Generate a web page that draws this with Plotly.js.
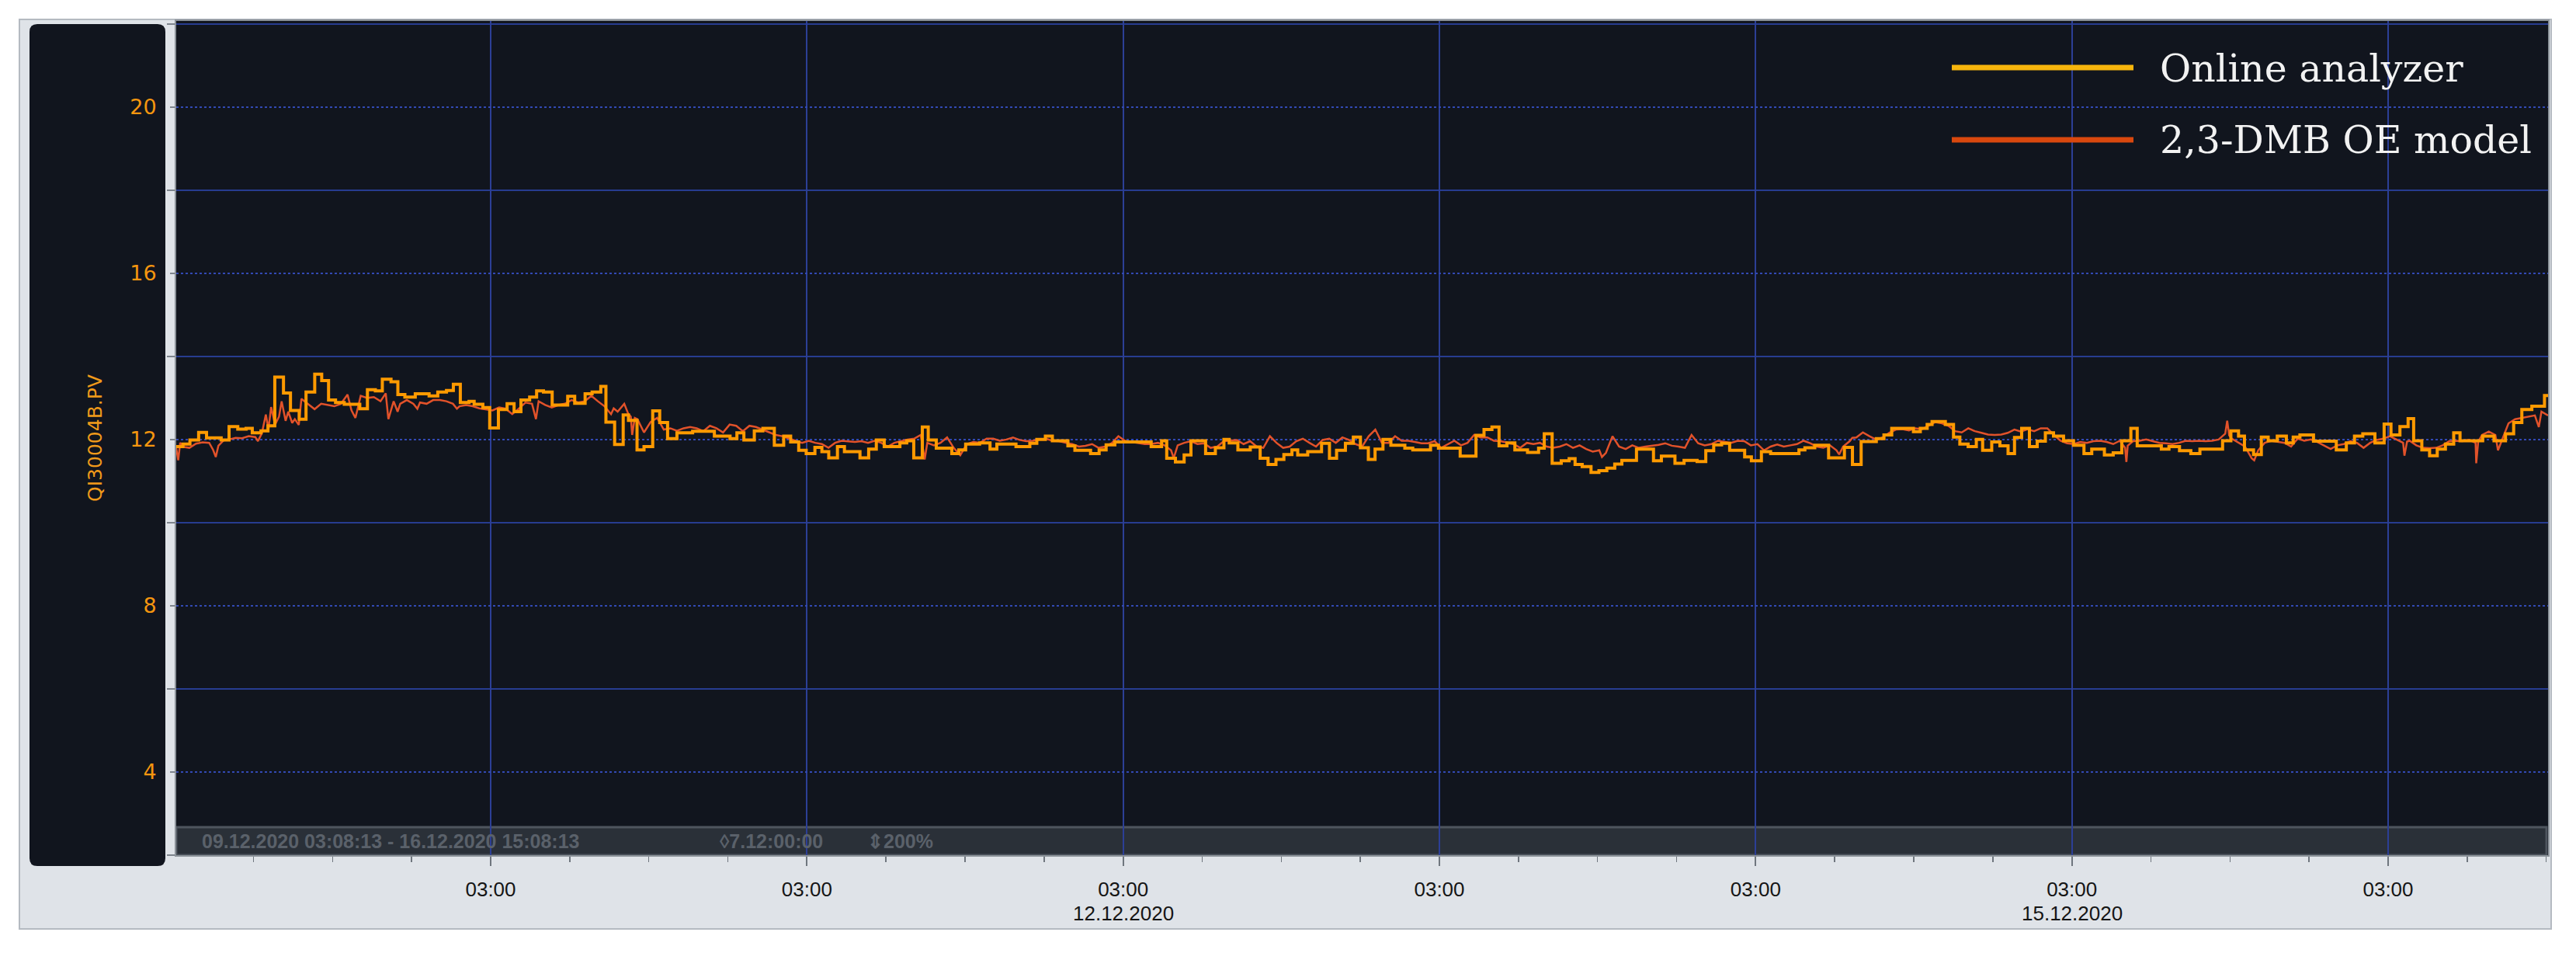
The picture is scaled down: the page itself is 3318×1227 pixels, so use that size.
<!DOCTYPE html>
<html>
<head>
<meta charset="utf-8">
<script src="https://cdn.plot.ly/plotly-3.0.1.min.js"></script>
<style>
  html, body { margin: 0; padding: 0; background: #fff; }
  #chart { width: 3318px; height: 1227px; }
</style>
</head>
<body>
<div id="chart"></div>
<script>
/*  QI30004B.PV trend – online analyzer vs. 2,3-DMB OE model
------------------------------------------------ */

/* Time base: hours counted from the left edge of the window */
const T0_UTC = Date.UTC(2020, 11, 9, 3, 8, 13);      // 09.12.2020 03:08:13
const SPAN_H = 180;                                  // 7.12:00:00

/* Online analyzer (step signal) */
const analyzerHours = [
  0, 0.51, 1.04, 1.70, 2.30, 3.41, 4.01, 4.67, 5.30, 5.77, 6.43, 6.96, 7.48, 8.14, 8.67, 9.33,
  9.85, 10.51, 11.04, 11.56, 12.09, 12.75, 13.93, 14.51, 15.11, 15.64, 16.30, 16.82, 17.35, 18.14,
  19.19, 19.85, 20.51, 21.03, 21.56, 22.22, 22.61, 23.27, 23.79, 24.45, 25.11, 25.64, 26.16, 26.82,
  27.35, 27.87, 28.53, 29.71, 30.24, 31.03, 31.56, 32.22, 32.61, 33.27, 33.92, 34.32, 34.97, 35.50,
  36.16, 36.69, 37.29, 38.00, 39.19,
  40.84, 42.03, 42.55, 43.08, 43.87, 44.52, 45.39, 46.10, 46.63, 47.24, 47.81, 48.47, 49.00, 49.52,
  50.18, 50.71, 51.89, 52.55, 53.13, 53.73, 54.92, 55.44, 55.97, 56.62, 57.07, 57.68, 58.86, 59.39,
  59.91, 60.97, 61.76, 62.28, 63.73, 64.78, 65.31, 65.96, 66.49, 67.67, 68.20, 69.39, 70.04, 70.57,
  71.23, 73.99, 74.78, 75.17, 75.83, 76.49, 77.01, 78.12, 78.86, 79.51, 79.91, 80.57,
  81.51, 82.26, 82.86, 83.46, 84.06, 84.67, 85.11, 85.87, 86.92, 87.52, 88.06, 88.73, 89.33, 89.87,
  90.47, 90.98, 91.58, 92.18, 93.24, 93.84, 95.19, 95.79, 97.44, 98.64, 99.25, 99.85, 100.39, 100.99,
  101.59, 102.55, 103.39, 103.82, 104.42, 105.11, 105.71, 106.16, 106.70, 107.37, 107.97, 108.57,
  109.17, 109.71, 110.82, 112.11, 112.71, 113.74, 114.43, 115.42, 116.08, 116.68, 117.28, 117.89,
  119.03, 119.54, 120.30, 121.00, 123.15, 123.60, 124.35, 125.40, 126.60, 127.21, 127.87,
  129.02, 129.60, 130.19, 131.84, 132.36, 132.88, 133.25, 134.26, 134.88, 135.36, 135.99, 136.61,
  137.09, 137.78, 138.40, 139.02, 139.51, 140.05, 140.64, 141.23, 141.85, 142.47, 143.23, 143.99,
  144.78, 145.37, 146.33, 147.00, 147.65, 148.34, 148.82, 150.65, 151.23, 152.03, 152.89, 153.58,
  155.30, 155.93, 156.51, 156.96, 157.65, 158.24, 158.76, 159.45, 160.14, 160.66, 161.17, 162.20,
  163.93, 164.69, 165.31, 165.94, 166.86, 167.56, 168.08, 168.76, 169.38, 169.80, 170.42, 171.01,
  171.59, 172.21, 172.84, 173.32, 175.04, 175.90, 176.77, 177.39, 178.01, 178.77, 179.73, 180
];
const analyzerValues = [
  11.83, 11.89, 11.99, 12.17, 12.04, 11.99, 12.31, 12.25, 12.27, 12.16, 12.21, 12.33, 13.50, 13.12, 12.70, 12.49,
  13.14, 13.57, 13.42, 12.95, 12.89, 12.85, 12.74, 13.20, 13.17, 13.45, 13.39, 13.08, 13.02, 13.10,
  13.05, 13.14, 13.18, 13.33, 12.89, 12.92, 12.85, 12.77, 12.28, 12.72, 12.86, 12.67, 12.95, 13.02,
  13.17, 13.14, 12.83, 13.04, 12.87, 13.10, 13.14, 13.28, 12.42, 11.88, 12.59, 12.46, 11.75, 11.83,
  12.69, 12.41, 12.02, 12.16, 12.20,
  12.08, 12.02, 12.16, 11.99, 12.21, 12.27, 11.86, 12.08, 11.94, 11.74, 11.66, 11.81, 11.71, 11.56,
  11.83, 11.71, 11.56, 11.77, 11.99, 11.83, 11.92, 11.97, 11.56, 12.30, 11.99, 11.79, 11.66, 11.75,
  11.89, 11.92, 11.77, 11.89, 11.83, 11.91, 12.00, 12.08, 11.97, 11.85, 11.74, 11.66, 11.75, 11.87,
  11.94, 11.83, 11.97, 11.55, 11.46, 11.63, 11.97, 11.66, 11.80, 12.00, 11.92, 11.75,
  11.82, 11.55, 11.40, 11.52, 11.64, 11.75, 11.63, 11.71, 11.91, 11.55, 11.74, 11.91, 12.06, 11.80,
  11.52, 11.77, 12.00, 11.86, 11.79, 11.75, 11.86, 11.79, 11.60, 12.10, 12.24, 12.30, 11.85, 11.92,
  11.75, 11.69, 11.79, 12.14, 11.43, 11.49, 11.54, 11.40, 11.35, 11.21, 11.25, 11.31,
  11.41, 11.50, 11.77, 11.49, 11.60, 11.43, 11.50, 11.47, 11.73, 11.87, 11.91, 11.74,
  11.58, 11.49, 11.71, 11.66, 11.75, 11.80, 11.86, 11.56, 11.81, 11.40, 11.95,
  12.02, 12.11, 12.27, 12.19, 12.27, 12.36, 12.43, 12.36, 12.06, 11.89, 11.83, 12.00,
  11.74, 11.94, 11.85, 11.66, 12.05, 12.27, 11.83, 11.96, 12.16, 12.08, 11.97, 11.86,
  11.66, 11.77, 11.63, 11.68, 11.97, 12.27, 11.85, 11.77, 11.83, 11.73, 11.66, 11.77,
  11.97, 12.21, 12.08, 11.75, 11.64, 12.06, 11.97, 12.08, 11.92, 12.06, 12.11, 11.96,
  11.75, 11.92, 12.08, 12.14, 11.92, 12.37, 12.11, 12.31, 12.50, 11.97, 11.75, 11.61,
  11.77, 11.89, 12.16, 11.97, 12.08, 11.97, 12.14, 12.41, 12.72, 12.80, 13.06, 13.06
];

/* 2,3-DMB OE model (continuous signal) */
const modelHours = [
  0, 0.15, 0.3, 0.6, 1, 1.5, 2, 2.5, 2.8, 3.0, 3.2, 3.6, 4, 4.5, 5, 5.5, 6, 6.2, 6.5, 6.8, 7.0, 7.2,
  7.5, 7.8, 8, 8.3, 8.5, 8.8, 9, 9.3, 9.5, 10, 10.5, 11, 11.5, 12, 12.5, 13, 13.3, 13.6, 14, 14.5, 15,
  15.5, 15.9, 16.1, 16.5, 16.8, 17, 17.5, 18, 18.3, 18.5, 19, 19.5, 20, 20.5, 21, 21.3, 21.5, 22, 22.5,
  23, 23.5, 24, 24.5, 25, 25.5, 26, 26.5, 27, 27.3, 27.5, 28, 28.5, 29, 29.5, 30, 30.5, 31, 31.5, 32,
  32.5, 33, 33.2, 33.5, 34, 34.3, 34.5, 34.6, 34.8, 35, 35.5, 36, 36.5, 37, 37.5, 38, 38.5, 39, 39.5,
  40, 40.5, 41, 41.5, 42, 42.5, 43, 43.5, 44, 44.5, 45, 45.5, 46, 46.5, 47, 47.5, 48, 48.5, 49, 49.5,
  50, 50.5, 51, 51.5, 52, 52.5, 53, 53.5, 54, 54.5, 55, 55.5, 56, 56.5, 56.8, 57, 57.5, 58, 58.5, 59,
  59.5, 60, 60.5, 61, 61.5, 62, 62.5, 63, 63.5, 64, 64.5, 65, 65.5, 66, 66.5, 67, 67.5, 68, 68.5, 69,
  69.5, 70, 70.5, 71, 71.5, 72, 72.5, 73, 73.5, 74, 74.5, 75, 75.5, 75.7, 76, 76.5, 77, 77.5, 78, 78.5,
  79, 79.5, 80, 80.5,
  81, 81.5, 82, 82.5, 83, 83.5, 84, 84.5, 85, 85.5, 86, 86.5, 87, 87.5, 88, 88.5, 89, 89.5, 90, 90.5,
  91, 91.5, 92, 92.5, 93, 93.5, 94, 94.5, 95, 95.5, 96, 96.5, 97, 97.5, 98, 98.5, 99, 99.5, 100, 100.5,
  101, 101.5, 102, 102.5, 103, 103.5, 104, 104.5, 105, 105.5, 106, 106.5, 107, 107.5, 108, 108.2, 108.5,
  109, 109.5, 110, 110.5, 111, 111.5, 112, 112.5, 113, 113.5, 114, 114.5, 115, 115.5, 116, 116.5, 117,
  117.5, 118, 118.5, 119, 119.5, 120, 120.5, 121, 121.5, 122, 122.5, 123, 123.5, 124, 124.5, 125, 125.5,
  126, 126.2, 126.5, 127, 127.2, 127.5, 128,
  128.5, 129, 129.5, 130, 130.5, 131, 131.5, 132, 132.5, 133, 133.5, 134, 134.5, 135, 135.5, 136, 136.5,
  137, 137.5, 138, 138.5, 139, 139.5, 140, 140.5, 141, 141.5, 142, 142.5, 143, 143.5, 144, 144.5, 145,
  145.5, 146, 146.5, 147, 147.5, 147.9, 148.0, 148.1, 148.5, 149, 149.5, 150, 150.5, 151, 151.5, 152,
  152.5, 153, 153.5, 154, 154.5, 155, 155.5, 155.65, 155.8, 156, 156.5, 157, 157.5, 157.7, 158, 158.5,
  159, 159.5, 160, 160.5, 161, 161.5, 162, 162.5, 163, 163.5, 164, 164.5, 165, 165.5, 166, 166.5, 167,
  167.5, 168, 168.5, 169, 169.1, 169.3, 169.5, 170, 170.5, 171, 171.5, 172, 172.5, 173, 173.5, 174,
  174.5, 174.55, 174.7, 175, 175.5, 176, 176.2, 176.5, 177, 177.5, 178, 178.5, 179, 179.3, 179.5, 180
];
const modelValues = [
  11.80, 11.50, 11.92, 11.82, 11.80, 11.90, 11.93, 11.92, 11.75, 11.58, 11.85, 11.98, 12.00, 12.04, 12.03, 12.08, 12.06, 11.96, 12.15, 12.60, 12.25, 12.78,
  12.36, 12.55, 12.92, 12.45, 12.67, 12.40, 12.49, 12.35, 12.98, 12.86, 12.73, 12.86, 12.83, 12.80, 12.86, 13.08, 12.70, 12.52, 13.05, 13.00, 13.02,
  12.92, 13.11, 12.49, 12.92, 12.67, 12.86, 12.95, 12.86, 12.74, 12.89, 12.86, 12.95, 12.95, 12.92, 12.86, 12.74, 12.80, 12.83, 12.80,
  12.75, 12.73, 12.70, 12.77, 12.74, 12.61, 12.74, 12.89, 12.86, 12.49, 12.92, 12.83, 12.77, 12.83, 12.86, 12.95, 12.89, 12.92, 13.05, 12.92,
  12.80, 12.61, 12.75, 12.67, 12.86, 12.62, 12.55, 12.11, 12.52, 12.49, 12.17, 12.42, 12.52, 12.24, 12.27, 12.21, 12.27, 12.30, 12.27,
  12.20, 12.33, 12.27, 12.17, 12.36, 12.33, 12.20, 12.33, 12.30, 12.24, 12.17, 12.11, 12.08, 12.02, 11.97, 11.92, 11.97, 11.92, 11.89, 11.80,
  11.92, 11.97, 11.96, 11.94, 11.96, 11.92, 11.97, 11.92, 11.83, 11.92, 11.96, 12.00, 12.02, 12.11, 11.52, 11.92, 11.86, 11.92, 12.05, 11.80,
  11.62, 11.89, 11.94, 11.92, 12.02, 12.02, 11.97, 12.00, 12.05, 11.99, 11.96, 11.97, 12.00, 12.02, 11.97, 11.96, 11.92, 11.89, 11.83, 11.85,
  11.89, 11.80, 11.83, 11.91, 12.08, 11.97, 11.94, 11.92, 11.89, 11.89, 11.92, 11.86, 11.74, 11.55, 11.86, 11.92, 11.96, 11.89, 11.91, 11.80,
  11.83, 11.96, 11.97, 11.99,
  11.89, 11.96, 11.83, 11.80, 12.08, 11.92, 11.80, 11.83, 11.96, 12.02, 11.92, 11.83, 11.99, 12.02, 11.92, 12.05, 11.99, 11.89, 11.83, 12.08,
  12.24, 11.92, 11.92, 12.08, 11.97, 11.97, 11.94, 11.91, 11.91, 11.96, 11.80, 11.89, 11.97, 11.86, 11.92, 12.11, 12.05, 12.05, 11.97, 11.96,
  11.92, 11.89, 11.80, 11.92, 11.89, 11.92, 11.83, 11.80, 11.83, 11.89, 11.80, 11.86, 11.77, 11.71, 11.74, 11.58, 11.68,
  12.08, 11.83, 11.77, 11.86, 11.80, 11.83, 11.85, 11.87, 11.91, 11.85, 11.83, 11.80, 12.11, 11.91, 11.86, 11.89, 11.97,
  11.94, 11.92, 11.97, 11.96, 11.86, 11.89, 11.74, 11.83, 11.88, 11.83, 11.86, 11.89, 11.97, 11.91, 11.83, 11.80, 11.86,
  11.74, 11.64, 11.83, 11.96, 12.04, 12.05, 12.17,
  12.08, 12.00, 12.05, 12.16, 12.24, 12.25, 12.22, 12.27, 12.25, 12.33, 12.42, 12.39, 12.33, 12.20, 12.17, 12.27, 12.20,
  12.16, 12.12, 12.11, 12.12, 12.16, 12.24, 12.19, 12.25, 12.20, 12.27, 12.27, 12.11, 11.97, 11.91, 11.89, 11.94, 11.92,
  11.96, 11.97, 11.94, 11.89, 11.97, 11.80, 11.46, 11.85, 11.96, 11.97, 12.00, 11.96, 11.92, 11.91, 11.89, 11.92,
  11.97, 11.96, 11.97, 11.96, 11.97, 12.00, 12.14, 12.45, 12.10, 12.02, 11.92, 11.83, 11.55, 11.50, 11.74, 11.92,
  11.97, 11.94, 11.92, 11.83, 12.02, 11.97, 12.00, 11.94, 11.86, 11.77, 11.86, 11.89, 11.96, 11.92, 11.80, 11.92, 11.99,
  12.02, 12.08, 12.00, 11.92, 11.61, 11.95, 11.97, 11.86, 11.80, 11.79, 11.80, 11.86, 11.96, 11.97, 11.96, 11.99,
  11.92, 11.43, 11.95, 12.11, 12.19, 12.11, 11.74, 11.99, 12.39, 12.49, 12.52, 12.56, 12.58, 12.30, 12.67, 12.58
];

/* Labels */
const seriesNames   = ['Online analyzer', '2,3-DMB OE model'];
const traceColors   = ['#ff9a00', '#e2522a'];
const legendColors  = ['#f7b50c', '#d9480e'];
const dateLabels    = ['12.12.2020', '15.12.2020'];
const dateLabelAt   = ['2020-12-12 03:00', '2020-12-15 03:00'];
const yTitle        = 'QI30004B.PV';
const statusTexts   = ['09.12.2020 03:08:13 - 16.12.2020 15:08:13', '\u25CA7.12:00:00', '\u21D5200%'];

/* Geometry (px of the 3318x1227 page) */
const W = 3318, H = 1227;
const PLOT = { l: 227, r: 3282, t: 27, b: 1101 };
const px = x => (x - PLOT.l) / (PLOT.r - PLOT.l);
const py = y => (PLOT.b - y) / (PLOT.b - PLOT.t);

const toDate = h => new Date(T0_UTC + h * 3600e3).toISOString().slice(0, 19).replace('T', ' ');

function roundRect (x0, y0, x1, y1, r) {
  const P = (x, y) => px(x) + ',' + py(y);
  return 'M' + P(x0 + r, y0) + ' L' + P(x1 - r, y0) + ' Q' + P(x1, y0) + ' ' + P(x1, y0 + r) +
         ' L' + P(x1, y1 - r) + ' Q' + P(x1, y1) + ' ' + P(x1 - r, y1) +
         ' L' + P(x0 + r, y1) + ' Q' + P(x0, y1) + ' ' + P(x0, y1 - r) +
         ' L' + P(x0, y0 + r) + ' Q' + P(x0, y0) + ' ' + P(x0 + r, y0) + ' Z';
}

/* ----------------------------------------------------------- */
const model = {
  x: modelHours.map(toDate),
  y: modelValues,
  type: 'scatter', mode: 'lines',
  line: { color: traceColors[1], width: 2.5 },
  name: seriesNames[1], showlegend: false
};
const analyzer = {
  x: analyzerHours.map(toDate),
  y: analyzerValues,
  type: 'scatter', mode: 'lines',
  line: { color: traceColors[0], width: 4, shape: 'hv' },
  name: seriesNames[0], showlegend: false
};

const tickFont = { family: 'Liberation Sans, Arial, sans-serif', size: 26, color: '#151515' };
const statusFont = { family: 'Liberation Sans, Arial, sans-serif', size: 25, color: '#5a616a', weight: 'bold' };

const shapes = [
  /* grey window frame */
  { type: 'rect', xref: 'paper', yref: 'paper', layer: 'below',
    x0: px(25), x1: px(3286), y0: py(1196), y1: py(25),
    fillcolor: '#dfe3e8', line: { color: '#b4bac1', width: 2 } },
  /* dark rounded panel behind the y scale */
  { type: 'path', xref: 'paper', yref: 'paper', layer: 'below',
    path: roundRect(38, 31, 213, 1115, 10),
    fillcolor: '#11151e', line: { width: 0 } },
  /* plot background */
  { type: 'rect', xref: 'paper', yref: 'paper', layer: 'below',
    x0: 0, x1: 1, y0: 0, y1: 1, fillcolor: '#11151e', line: { width: 0 } },
  /* status bar */
  { type: 'rect', xref: 'paper', yref: 'paper', layer: 'below',
    x0: 0, x1: px(3280), y0: 0, y1: py(1065),
    fillcolor: '#2a3038', line: { color: '#4e555e', width: 3 } }
];

/* legend lines */
[87, 180].forEach((y, i) => shapes.push({
  type: 'line', xref: 'paper', yref: 'paper', layer: 'above',
  x0: px(2514), x1: px(2748), y0: py(y), y1: py(y),
  line: { color: legendColors[i], width: 7 }
}));

const annotations = [];
dateLabels.forEach((t, i) => annotations.push({
  x: dateLabelAt[i], y: py(1176), xref: 'x', yref: 'paper',
  text: t, showarrow: false, font: tickFont, xanchor: 'center', yanchor: 'middle'
}));
[258, 925, 1115].forEach((x, i) => annotations.push({
  x: px(x), y: py(1083), xref: 'paper', yref: 'paper',
  text: statusTexts[i], showarrow: false, font: statusFont, xanchor: 'left', yanchor: 'middle'
}));
[88, 180].forEach((y, i) => annotations.push({
  x: px(2780), y: py(y), xref: 'paper', yref: 'paper',
  text: seriesNames[i], showarrow: false, xanchor: 'left', yanchor: 'middle',
  font: { family: 'DejaVu Serif, Liberation Serif, serif', size: 49, color: '#f2f2f2' }
}));

const layout = {
  width: W, height: H,
  margin: { l: PLOT.l, r: W - PLOT.r, t: PLOT.t, b: H - PLOT.b, pad: 0 },
  paper_bgcolor: '#ffffff',
  plot_bgcolor: 'rgba(0,0,0,0)',
  showlegend: false,
  xaxis: {
    type: 'date',
    range: [toDate(0), toDate(SPAN_H)],
    tickmode: 'linear', tick0: '2020-12-10 03:00', dtick: 86400000,
    tickformat: '%H:%M', tickfont: tickFont,
    ticks: 'outside', ticklen: 12, tickwidth: 2, tickcolor: '#6f767e',
    ticklabelstandoff: 8,
    minor: { tick0: '2020-12-09 03:00', dtick: 21600000, ticks: 'outside',
             ticklen: 7, tickwidth: 1.5, tickcolor: '#6f767e',
             showgrid: false, gridcolor: 'rgba(0,0,0,0)' },
    showgrid: true, gridcolor: '#2c3f96', gridwidth: 2,
    showline: true, mirror: true, linecolor: '#8b9299', linewidth: 2,
    zeroline: false, fixedrange: true
  },
  yaxis: {
    range: [2, 22.07],
    tickmode: 'linear', tick0: 0, dtick: 4,
    tickfont: { family: 'DejaVu Sans, sans-serif', size: 27, color: '#f5960f' },
    ticks: 'outside', ticklen: 6, tickwidth: 2, tickcolor: '#7d848c',
    ticklabelstandoff: 12,
    showgrid: true, gridcolor: '#3249b3', gridwidth: 1.5, griddash: 'dot',
    minor: { tick0: 0, dtick: 2, ticks: 'outside', ticklen: 10, tickwidth: 2, tickcolor: '#7d848c',
             showgrid: true, gridcolor: '#273c90', gridwidth: 2, griddash: 'solid' },
    title: { text: yTitle, standoff: 28,
             font: { family: 'DejaVu Sans, sans-serif', size: 25, color: '#f09a1a' } },
    showline: true, mirror: true, linecolor: '#8b9299', linewidth: 2,
    zeroline: false, fixedrange: true
  },
  shapes: shapes,
  annotations: annotations
};

Plotly.newPlot('chart', [model, analyzer], layout, { displayModeBar: false, staticPlot: true });
</script>
</body>
</html>
